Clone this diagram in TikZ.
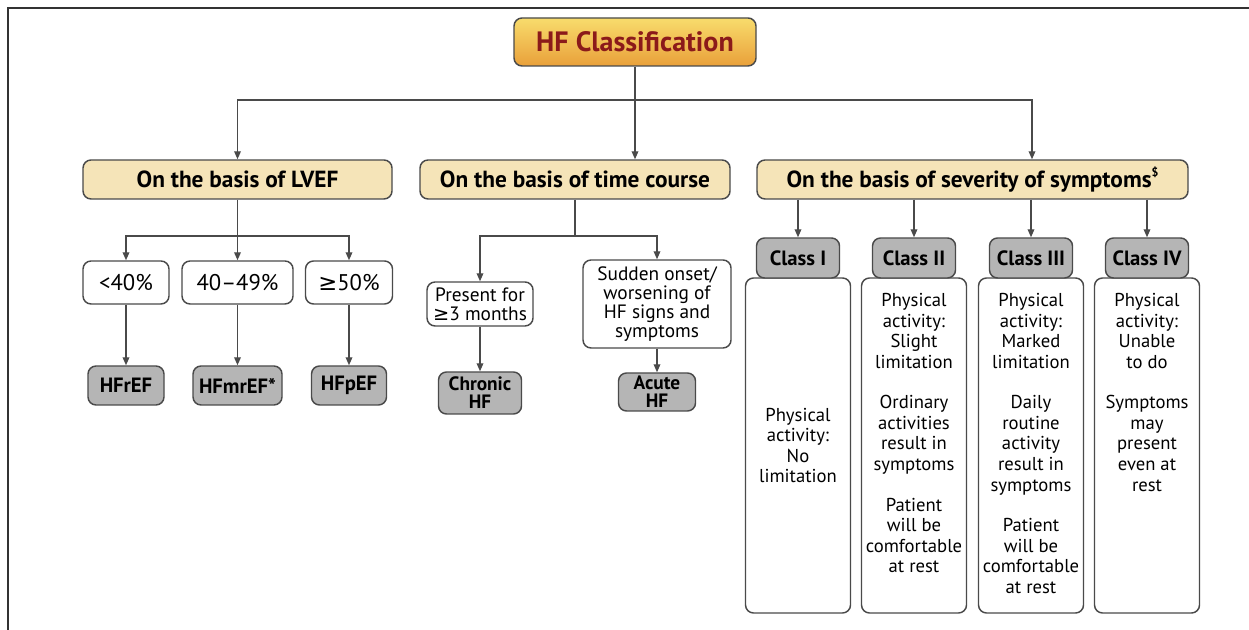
\documentclass[tikz,border=0pt]{standalone}
\usepackage{fontspec}
\setmainfont{PT Sans}
\newfontfamily\symfont{DejaVu Sans}
\usetikzlibrary{arrows.meta,positioning,calc}

\definecolor{TitleRed}{HTML}{8B1A1A}
\definecolor{TitleTop}{HTML}{F8DC6C}
\definecolor{TitleBottom}{HTML}{E9A03A}
\definecolor{BasisFill}{HTML}{F5E4B8}
\definecolor{ClassFill}{HTML}{B5B5B5}
\definecolor{EdgeGray}{HTML}{4A4A4A}

\def\px#1{#1*0.75pt}
\def\BusY{100}
\def\SubBusY{236}
\def\DescY{445.5}
\def\ClassY{258}
\def\ParGap{15pt}

\tikzset{
  box/.style={draw=EdgeGray, line width=1.1pt, rounded corners=6pt, inner sep=0pt, align=center},
  titlebox/.style={box, top color=TitleTop, bottom color=TitleBottom, text=TitleRed,
    font=\fontsize{21}{22}\selectfont\bfseries},
  basisbox/.style={box, fill=BasisFill, minimum height=\px{39}, font=\fontsize{17.5}{18}\selectfont\bfseries},
  valuebox/.style={box, fill=white, minimum height=\px{43}, font=\fontsize{17}{18}\selectfont},
  notebox/.style={box, fill=white, font=\fontsize{14.5}{14.3}\selectfont},
  typebox/.style={box, fill=ClassFill, font=\fontsize{15.5}{15}\selectfont\bfseries},
  outcomebox/.style={typebox, font=\fontsize{14.5}{13.6}\selectfont\bfseries},
  descbox/.style={box, fill=white, minimum width=\px{105}, minimum height=\px{335}},
  desctext/.style={align=center, inner sep=0pt, font=\fontsize{14}{15.4}\selectfont},
  link/.style={draw=EdgeGray, line width=1pt},
  arrow/.style={link, -{Triangle[length=6pt,width=5pt]}},
}

\begin{document}
\begin{tikzpicture}[x=0.75pt,y=-0.75pt]

\useasboundingbox (0,0) rectangle (1249,630);

% page frame (only top and left edges visible)
\draw[black!80, line width=1.5pt] (8,630) -- (8,8) -- (1249,8);

% =====================================================
% TITLE AND FIRST LEVEL
% =====================================================
\node[titlebox, minimum width=\px{242}, minimum height=\px{48}] (title) at (635,42) {HF Classification};

\node[basisbox, minimum width=\px{309}] (lvef) at (237.5,179.5) {On the basis of LVEF};
\node[basisbox, minimum width=\px{310}] (time) at (575,179.5) {On the basis of time course};
\node[basisbox, minimum width=\px{431}] (sev) at (972.5,179.5)
    {On the basis of severity of symptoms\raisebox{0.9ex}{\fontsize{9}{9}\selectfont\$}};

\coordinate (bus) at (635,\BusY);
\draw[link] (title.south) -- (bus);
\draw[arrow] (bus) -| (lvef.north);
\draw[arrow] (bus) -- (bus |- time.north);
\draw[arrow] (bus) -| ($(sev.north)+(59.5,0)$);

% =====================================================
% LVEF BRANCH
% =====================================================
\node[valuebox, minimum width=\px{86}] (lt40) at (126,282.5) {<40\%};
\node[valuebox, minimum width=\px{111}] (mid40) at (237.5,282.5) {40–49\%};
\node[valuebox, minimum width=\px{87}] (ge50) at (349,282.5) {{\symfont ≥}50\%};

\node[typebox, minimum width=\px{76}, minimum height=\px{39}] (hfref) at (126,385.5) {HFrEF};
\node[typebox, minimum width=\px{89}, minimum height=\px{39}] (hfmref) at (237.5,385.5) {HFmrEF*};
\node[typebox, minimum width=\px{75}, minimum height=\px{39}] (hfpef) at (349,385.5) {HFpEF};

\coordinate (lvefbus) at (237.5,\SubBusY);
\draw[link] (lvef.south) -- (lvefbus);
\foreach \a/\b in {lt40/hfref,mid40/hfmref,ge50/hfpef} {
    \draw[arrow] (lvefbus) -| (\a.north);
    \draw[arrow] (\a.south) -- (\b.north);
}

% =====================================================
% TIME COURSE BRANCH
% =====================================================
\node[notebox, minimum width=\px{106}, minimum height=\px{44}] (present) at (480,304)
    {Present for\\{\symfont ≥}3 months};
\node[notebox, minimum width=\px{148}, minimum height=\px{88}] (sudden) at (657,304)
    {Sudden onset/\\worsening of\\HF signs and\\symptoms};

\node[outcomebox, minimum width=\px{83}, minimum height=\px{42}] (chronic) at (480,393) {Chronic\\HF};
\node[outcomebox, minimum width=\px{77}, minimum height=\px{38}] (acute) at (657,392) {Acute\\HF};

\coordinate (timebus) at (575,\SubBusY);
\draw[link] (time.south) -- (timebus);
\foreach \a/\b in {present/chronic,sudden/acute} {
    \draw[arrow] (timebus) -| (\a.north);
    \draw[arrow] (\a.south) -- (\b.north);
}

% =====================================================
% SEVERITY BRANCH (NYHA classes)
% =====================================================
\foreach \i/\x/\name in {1/798/I,2/914/II,3/1031/III,4/1147/IV} {
    \node[descbox] (d\i) at (\x,\DescY) {};
    \node[typebox, minimum width=\px{83}, minimum height=\px{40}] (c\i) at (\x,\ClassY) {Class \name};
    \draw[arrow] (sev.south -| c\i.north) -- (c\i.north);
}

\node[desctext] (t1) at (d1) {Physical\\activity:\\No\\limitation};

\node[desctext, below=12pt of d2.north] (t2) {Physical\\activity:\\Slight\\limitation\\[\ParGap]
    Ordinary\\activities\\result in\\symptoms\\[\ParGap]
    Patient\\will be\\comfortable\\at rest};

\node[desctext, below=12pt of d3.north] (t3) {Physical\\activity:\\Marked\\limitation\\[\ParGap]
    Daily\\routine\\activity\\result in\\symptoms\\[\ParGap]
    Patient\\will be\\comfortable\\at rest};

\node[desctext, below=12pt of d4.north] (t4) {Physical\\activity:\\Unable\\to do\\[\ParGap]
    Symptoms\\may\\present\\even at\\rest};

\end{tikzpicture}
\end{document}
